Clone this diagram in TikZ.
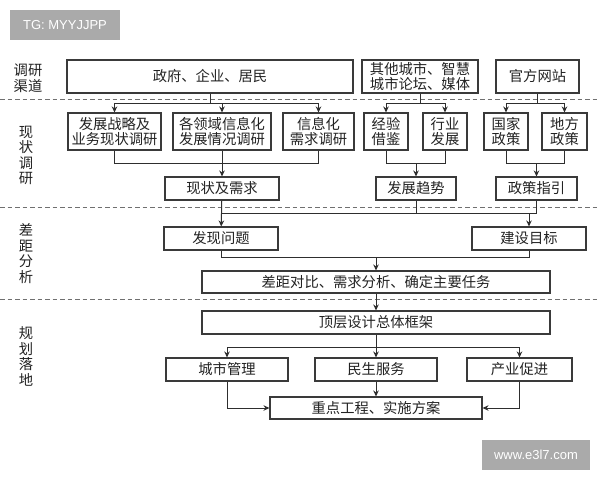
\documentclass[tikz,border=0pt]{standalone}
\usepackage{fontspec}
\setmainfont{Noto Sans CJK SC}
\newfontfamily\wmfont{Liberation Sans}
\usetikzlibrary{arrows.meta}
\definecolor{boxc}{HTML}{3A3A3A}
\definecolor{linec}{HTML}{2E2E2E}
\definecolor{txt}{HTML}{222222}
\definecolor{sepc}{HTML}{707070}
\definecolor{wmg}{HTML}{AAAAAA}
\begin{document}
\begin{tikzpicture}[x=1pt,y=-1pt,
  bx/.style={draw=boxc, line width=1.1pt, inner sep=0pt, align=center, font=\fontsize{14.3}{15.5}\selectfont, text=txt},
  ln/.style={draw=linec, line width=1pt},
  arr/.style={ln, -{Stealth[length=6pt,width=5.5pt]}},
  sepl/.style={draw=sepc, line width=0.9pt, dash pattern=on 4.5pt off 3pt},
  lab/.style={align=center, font=\fontsize{14.3}{15.6}\selectfont, text=txt, inner sep=0pt},
  wm/.style={fill=wmg, text=white, font=\wmfont\fontsize{13}{13}\selectfont, inner sep=0pt}]
\useasboundingbox (0,0) rectangle (600,480);
\fill[white] (0,0) rectangle (600,480);

% watermarks
\node[wm, minimum width=110, minimum height=30] (wm1) at (65,25) {TG: MYYJJPP};
\node[wm, minimum width=108, minimum height=30] (wm2) at (536,455) {www.e3l7.com};

% separators
\coordinate (s1a) at (0,99);  \coordinate (s1b) at (600,99);
\coordinate (s2a) at (0,207); \coordinate (s2b) at (600,207);
\coordinate (s3a) at (0,299); \coordinate (s3b) at (600,299);
\draw[sepl] (s1a) -- (s1b);
\draw[sepl] (s2a) -- (s2b);
\draw[sepl] (s3a) -- (s3b);

% left labels
\node[lab] (L1) at (28,78) {调研\\渠道};
\node[lab] (L2) at (26,155.5) {现\\状\\调\\研};
\node[lab] (L3) at (26,253.5) {差\\距\\分\\析};
\node[lab] (L4) at (26,356.5) {规\\划\\落\\地};

% row 1
\node[bx, minimum width=286, minimum height=33] (gov) at (210,76.5) {政府、企业、居民};
\node[bx, minimum width=116, minimum height=33] (oth) at (420,76.5) {其他城市、智慧\\城市论坛、媒体};
\node[bx, minimum width=83, minimum height=33] (web) at (537.5,76.5) {官方网站};

% row 2
\node[bx, minimum width=93, minimum height=37] (r1) at (114.5,131.5) {发展战略及\\业务现状调研};
\node[bx, minimum width=98, minimum height=37] (r2) at (222,131.5) {各领域信息化\\发展情况调研};
\node[bx, minimum width=71, minimum height=37] (r3) at (318.5,131.5) {信息化\\需求调研};
\node[bx, minimum width=44, minimum height=37] (jy) at (386,131.5) {经验\\借鉴};
\node[bx, minimum width=44, minimum height=37] (hy) at (445,131.5) {行业\\发展};
\node[bx, minimum width=44, minimum height=37] (gj) at (506,131.5) {国家\\政策};
\node[bx, minimum width=45, minimum height=37] (df) at (564.5,131.5) {地方\\政策};

% row 3
\node[bx, minimum width=114, minimum height=23] (xz) at (222,188.5) {现状及需求};
\node[bx, minimum width=80, minimum height=23] (qs) at (416,188.5) {发展趋势};
\node[bx, minimum width=81, minimum height=23] (zc) at (536.5,188.5) {政策指引};

% row 4
\node[bx, minimum width=114, minimum height=23] (fx) at (221,238.5) {发现问题};
\node[bx, minimum width=114, minimum height=23] (js) at (529,238.5) {建设目标};

% row 5
\node[bx, minimum width=348, minimum height=22] (cj) at (376,282) {差距对比、需求分析、确定主要任务};
\node[bx, minimum width=348, minimum height=23] (dc) at (376,322.5) {顶层设计总体框架};

% row 6
\node[bx, minimum width=122, minimum height=23] (cs) at (227,369.5) {城市管理};
\node[bx, minimum width=122, minimum height=23] (ms) at (376,369.5) {民生服务};
\node[bx, minimum width=105, minimum height=23] (cy) at (519.5,369.5) {产业促进};
\node[bx, minimum width=212, minimum height=22] (zd) at (376,408) {重点工程、实施方案};

% junctions
\coordinate (j1) at (210,103);
\coordinate (j2) at (420,103);
\coordinate (j3) at (537.5,103);
\coordinate (m1) at (222,163);
\coordinate (m2) at (416,163);
\coordinate (m3) at (536.5,163);
\coordinate (n4) at (222,213);
\coordinate (n5) at (376,257);
\coordinate (n6) at (376,347);

% connectors row1 -> row2
\draw[ln] (gov) -- (j1);
\draw[arr] (j1) -| (r1);
\draw[arr] (j1) -| (r2);
\draw[arr] (j1) -| (r3);
\draw[ln] (oth) -- (j2);
\draw[arr] (j2) -| (jy);
\draw[arr] (j2) -| (hy);
\draw[ln] (web) -- (j3);
\draw[arr] (j3) -| (gj);
\draw[arr] (j3) -| (df);

% row2 -> row3
\draw[ln] (r1) |- (m1);
\draw[ln] (r3) |- (m1);
\draw[arr] (r2) -- (xz);
\draw[ln] (jy) |- (m2);
\draw[ln] (hy) |- (m2);
\draw[arr] (m2) -- (qs);
\draw[ln] (gj) |- (m3);
\draw[ln] (df) |- (m3);
\draw[arr] (m3) -- (zc);

% row3 -> row4
\draw[ln] (zc) |- (n4);
\draw[ln] (qs) -- (qs |- n4);
\draw[arr] (xz) -- (fx);
\draw[arr] (js |- n4) -- (js);

% row4 -> cj
\draw[ln] (fx) |- (n5);
\draw[ln] (js) |- (n5);
\draw[arr] (n5) -- (cj);
\draw[arr] (cj) -- (dc);

% dc -> row6
\draw[ln] (dc) -- (n6);
\draw[arr] (n6) -| (cs);
\draw[arr] (n6) -| (cy);
\draw[arr] (n6) -- (ms);

% row6 -> zd
\draw[arr] (cs) |- (zd);
\draw[arr] (cy) |- (zd);
\draw[arr] (ms) -- (zd);
\end{tikzpicture}
\end{document}
